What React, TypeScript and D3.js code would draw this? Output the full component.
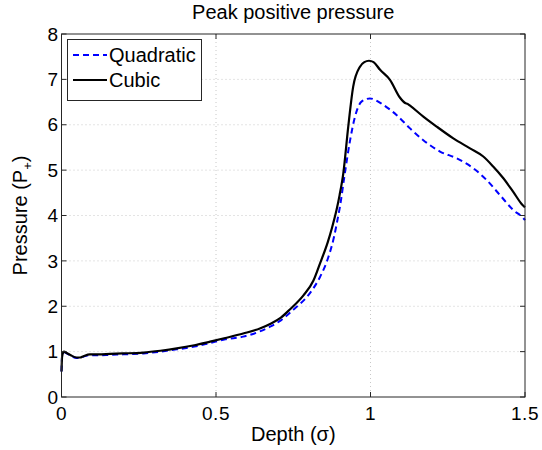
import React from "react";
import * as d3 from "d3";

const cubicX = [0, 0.002, 0.008, 0.017, 0.03, 0.049, 0.06, 0.071, 0.092, 0.12, 0.157, 0.2, 0.265, 0.32, 0.373, 0.43, 0.481, 0.53, 0.588, 0.642, 0.675, 0.71, 0.739, 0.783, 0.815, 0.837, 0.862, 0.875, 0.89, 0.9, 0.912, 0.928, 0.944, 0.966, 0.98, 0.995, 1.01, 1.031, 1.063, 1.095, 1.105, 1.112, 1.12, 1.128, 1.171, 1.214, 1.268, 1.322, 1.365, 1.397, 1.43, 1.462, 1.492, 1.5];
const cubicY = [0.56, 0.9, 1.0, 0.97, 0.92, 0.87, 0.87, 0.9, 0.94, 0.94, 0.95, 0.96, 0.98, 1.02, 1.07, 1.14, 1.22, 1.3, 1.4, 1.51, 1.61, 1.75, 1.93, 2.24, 2.56, 2.95, 3.42, 3.72, 4.12, 4.45, 4.93, 5.96, 6.84, 7.28, 7.38, 7.41, 7.38, 7.21, 6.99, 6.6, 6.52, 6.48, 6.46, 6.42, 6.18, 5.96, 5.7, 5.48, 5.3, 5.08, 4.82, 4.52, 4.23, 4.18];

const quadX = [0, 0.002, 0.008, 0.017, 0.03, 0.049, 0.06, 0.071, 0.092, 0.12, 0.157, 0.2, 0.265, 0.32, 0.373, 0.43, 0.481, 0.53, 0.588, 0.61, 0.675, 0.71, 0.75, 0.804, 0.837, 0.864, 0.882, 0.893, 0.901, 0.917, 0.934, 0.95, 0.971, 0.998, 1.041, 1.085, 1.128, 1.171, 1.225, 1.279, 1.333, 1.376, 1.419, 1.462, 1.495, 1.5];
const quadY = [0.56, 0.9, 0.99, 0.96, 0.91, 0.86, 0.86, 0.89, 0.92, 0.92, 0.93, 0.94, 0.96, 1.0, 1.05, 1.11, 1.19, 1.27, 1.33, 1.37, 1.55, 1.69, 1.92, 2.29, 2.65, 3.09, 3.53, 3.9, 4.19, 4.93, 5.66, 6.18, 6.51, 6.58, 6.44, 6.21, 5.92, 5.66, 5.41, 5.26, 5.04, 4.78, 4.45, 4.12, 3.94, 3.9];

const xTicks = [0, 0.5, 1, 1.5];
const xTickLabels = ["0", "0.5", "1", "1.5"];
const yTicks = [0, 1, 2, 3, 4, 5, 6, 7, 8];

const W = 542, H = 450;
const left = 61.5, right = 525, top = 34, bottom = 397;
const FONT = "'Liberation Sans', Arial, Helvetica, sans-serif";

export default function App() {
  const x = d3.scaleLinear().domain([0, 1.5]).range([left, right]);
  const y = d3.scaleLinear().domain([0, 8]).range([bottom, top]);
  const line = d3
    .line<[number, number]>()
    .x((d) => x(d[0]))
    .y((d) => y(d[1]))
    .curve(d3.curveMonotoneX);
  const cubic = line(cubicX.map((v, i) => [v, cubicY[i]]) as [number, number][]) || "";
  const quad = line(quadX.map((v, i) => [v, quadY[i]]) as [number, number][]) || "";
  const tickLen = 5;
  const axisColor = "#262626";
  const gridColor = "#c8c8c8";

  return (
    <svg width={W} height={H} style={{ position: "absolute", left: 0, top: 0, background: "#fff" }} fontFamily={FONT}>
      <rect x={0} y={0} width={W} height={H} fill="#fff" />
      {xTicks.slice(1, -1).map((t) => (
        <line key={"gx" + t} x1={x(t)} x2={x(t)} y1={top} y2={bottom} stroke={gridColor} strokeWidth={1} strokeDasharray="1,3" />
      ))}
      {yTicks.slice(1, -1).map((t) => (
        <line key={"gy" + t} x1={left} x2={right} y1={y(t)} y2={y(t)} stroke={gridColor} strokeWidth={1} strokeDasharray="1,3" />
      ))}
      <path d={quad} fill="none" stroke="#0000ff" strokeWidth={2} strokeDasharray="6,4" />
      <path d={cubic} fill="none" stroke="#000" strokeWidth={2.2} />
      <rect x={left} y={top} width={right - left} height={bottom - top} fill="none" stroke={axisColor} strokeWidth={1} />
      {xTicks.map((t) => (
        <g key={"tx" + t}>
          <line x1={x(t)} x2={x(t)} y1={bottom} y2={bottom - tickLen} stroke={axisColor} />
          <line x1={x(t)} x2={x(t)} y1={top} y2={top + tickLen} stroke={axisColor} />
        </g>
      ))}
      {yTicks.map((t) => (
        <g key={"ty" + t}>
          <line x1={left} x2={left + tickLen} y1={y(t)} y2={y(t)} stroke={axisColor} />
          <line x1={right} x2={right - tickLen} y1={y(t)} y2={y(t)} stroke={axisColor} />
        </g>
      ))}
      {xTicks.map((t, i) => (
        <text key={"lx" + t} x={x(t)} y={420} textAnchor="middle" fontSize={19} letterSpacing={0.5} fill="#000">
          {xTickLabels[i]}
        </text>
      ))}
      {yTicks.map((t) => (
        <text key={"ly" + t} x={58} y={y(t)} dy="0.35em" textAnchor="end" fontSize={19} fill="#000">
          {t}
        </text>
      ))}
      <text x={(left + right) / 2} y={19} textAnchor="middle" fontSize={20} fill="#000">
        Peak positive pressure
      </text>
      <text x={(left + right) / 2} y={441} textAnchor="middle" fontSize={20} fill="#000">
        Depth (σ)
      </text>
      <text transform={`translate(27,${(top + bottom) / 2}) rotate(-90)`} textAnchor="middle" fontSize={20} fill="#000">
        Pressure (P<tspan fontSize={13} dy={5}>+</tspan><tspan dy={-5}>)</tspan>
      </text>
      <rect x={67.5} y={39.5} width={134} height={61} fill="#fff" stroke={axisColor} strokeWidth={1} />
      <line x1={73} x2={107} y1={55} y2={55} stroke="#0000ff" strokeWidth={2} strokeDasharray="6,4" />
      <text x={109} y={55} dy="0.35em" fontSize={20} fill="#000">Quadratic</text>
      <line x1={73} x2={107} y1={80} y2={80} stroke="#000" strokeWidth={2} />
      <text x={109} y={80} dy="0.35em" fontSize={20} fill="#000">Cubic</text>
    </svg>
  );
}
